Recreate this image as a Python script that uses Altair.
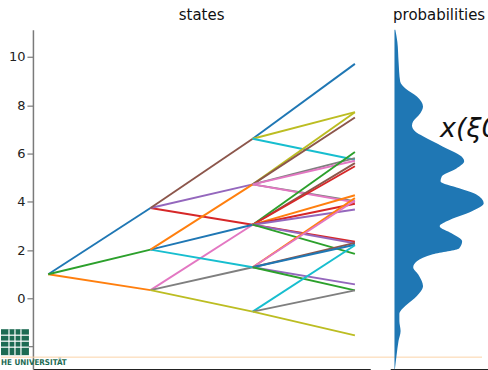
import altair as alt
import pandas as pd

# ---- data ----
palette_names = ["blue", "orange", "green", "red", "purple", "brown", "pink", "gray", "olive", "cyan"]
palette_hex = ["#1f77b4", "#ff7f0e", "#2ca02c", "#d62728", "#9467bd",
               "#8c564b", "#e377c2", "#7f7f7f", "#bcbd22", "#17becf"]

# tree edges: start stage, start state, end state, colour
edge_stage = [0, 0, 0,
              1, 1, 1, 1, 1, 1, 1, 1, 1,
              2, 2, 2,
              2, 2, 2, 2, 2, 2,
              2, 2, 2, 2, 2, 2, 2, 2, 2,
              2, 2, 2, 2, 2, 2,
              2, 2, 2]
edge_from = [1.0, 1.0, 1.0,
             3.74, 3.74, 3.74, 0.34, 0.34, 0.34, 2.02, 2.02, 2.02,
             6.61, 6.61, 6.61,
             4.72, 4.72, 4.72, 4.72, 4.72, 4.72,
             3.05, 3.05, 3.05, 3.05, 3.05, 3.05, 3.05, 3.05, 3.05,
             1.29, 1.29, 1.29, 1.29, 1.29, 1.29,
             -0.55, -0.55, -0.55]
edge_to = [3.74, 0.34, 2.02,
           3.05, 4.72, 6.61, 3.05, 1.29, -0.55, 1.29, 3.05, 4.72,
           9.71, 7.71, 5.74,
           7.71, 7.49, 5.81, 5.70, 4.02, 3.98,
           6.06, 5.60, 5.47, 4.27, 3.92, 3.68, 2.35, 2.28, 1.84,
           4.15, 4.05, 2.30, 2.22, 0.58, 0.33,
           2.20, 0.33, -1.53]
edge_color = ["blue", "orange", "green",
              "red", "purple", "brown", "pink", "gray", "olive", "cyan", "blue", "orange",
              "blue", "olive", "cyan",
              "olive", "brown", "gray", "pink", "gray", "pink",
              "green", "brown", "red", "orange", "red", "purple", "red", "purple", "green",
              "orange", "pink", "brown", "blue", "purple", "green",
              "cyan", "gray", "olive"]

# density of the final states (probabilities panel)
dens_state = [11.12, 10.63, 9.81, 8.98, 8.69, 8.36, 7.95, 7.66, 7.33, 7.16, 6.91, 6.71,
              6.29, 5.88, 5.68, 5.38, 5.05, 4.85, 4.56, 4.31, 3.94, 3.61, 3.19, 2.99,
              2.70, 2.37, 2.08, 1.83, 1.54, 1.29, 1.00, 0.51, 0.10, -0.31, -0.65,
              -0.94, -1.35, -1.76, -2.38, -2.93]
dens_value = [0.002, 0.007, 0.010, 0.014, 0.027, 0.055, 0.070, 0.063, 0.046, 0.043, 0.051, 0.070,
              0.118, 0.164, 0.171, 0.152, 0.116, 0.113, 0.159, 0.200, 0.219, 0.190, 0.128, 0.111,
              0.140, 0.166, 0.159, 0.094, 0.055, 0.046, 0.058, 0.070, 0.055, 0.027, 0.012,
              0.012, 0.015, 0.010, 0.005, 0.001]

y_ticks = [-2, 0, 2, 4, 6, 8, 10]
x_ticks = [0, 1, 2, 3]
dens_ticks = [0, 0.2]

Y_DOMAIN = [-2.93, 11.12]
FONT = "DejaVu Sans"
GREEN = "#1c6b53"

edges = pd.DataFrame({
    "t": edge_stage,
    "t2": [s + 1 for s in edge_stage],
    "v": edge_from,
    "v2": edge_to,
    "c": edge_color,
})
dens = pd.DataFrame({"s": dens_state, "d": dens_value})

yscale = alt.Scale(domain=Y_DOMAIN, nice=False, zero=False)

lines = alt.Chart(edges).mark_rule(strokeWidth=1.9).encode(
    x=alt.X("t:Q", scale=alt.Scale(domain=[-0.15, 3.15], nice=False, zero=False),
            axis=alt.Axis(values=x_ticks, title=None, grid=False, domainColor="#222",
                          domainWidth=1.5, tickColor="#222", tickSize=2, labels=False)),
    x2="t2:Q",
    y=alt.Y("v:Q", scale=yscale,
            axis=alt.Axis(values=y_ticks, title=None, grid=False, domainColor="#7a7a7a",
                          domainWidth=1.5, tickColor="#7a7a7a", tickWidth=1.2, tickSize=6,
                          labelPadding=2, labelFontSize=13, labelFont=FONT, labelColor="#222",
                          labelExpr="replace(datum.label, '-', '\u2212')")),
    y2="v2:Q",
    color=alt.Color("c:N", scale=alt.Scale(domain=palette_names, range=palette_hex), legend=None),
)

one = pd.DataFrame({"k": [0]})
deco_line = alt.Chart(one).mark_rule(color="#fbd3a8", strokeWidth=1).encode(
    x=alt.value(-32), x2=alt.value(450), y=alt.value(328))
logo_box = alt.Chart(one).mark_rect(color=GREEN).encode(
    x=alt.value(-32), x2=alt.value(-4), y=alt.value(300), y2=alt.value(326))
logo_h = alt.Chart(pd.DataFrame({"p": [306, 312, 318]})).mark_rule(color="white", strokeWidth=1.2).encode(
    x=alt.value(-32), x2=alt.value(-4), y=alt.Y("p:Q", scale=None))
logo_v = alt.Chart(pd.DataFrame({"p": [-24, -18, -12]})).mark_rule(color="white", strokeWidth=1.2).encode(
    y=alt.value(300), y2=alt.value(326), x=alt.X("p:Q", scale=None))
logo_text = alt.Chart(pd.DataFrame({"label": ["HE UNIVERSITÄT"]})).mark_text(
    align="left", baseline="alphabetic", font="DejaVu Sans Condensed", fontWeight="bold",
    fontSize=8, color=GREEN).encode(text="label:N", x=alt.value(-32), y=alt.value(336))

left = alt.layer(lines, logo_box, logo_h, logo_v, logo_text, deco_line).properties(
    width=338, height=340,
    title=alt.TitleParams("states", fontSize=15, font=FONT, fontWeight="normal",
                          color="#111", offset=-5.5, baseline="alphabetic"))

area = alt.Chart(dens).mark_area(orient="horizontal", interpolate="monotone", color="#1f77b4").encode(
    y=alt.Y("s:Q", scale=yscale, axis=None),
    x=alt.X("d:Q", scale=alt.Scale(domain=[-0.0105, 0.2295], nice=False, zero=False),
            axis=alt.Axis(values=dens_ticks, title=None, grid=False, domainColor="#222",
                          domainWidth=1.5, tickColor="#222", tickSize=2, labels=False)),
)
formula = alt.Chart(pd.DataFrame({"label": ["x(ξ0"]})).mark_text(
    align="left", baseline="alphabetic", font=FONT, fontStyle="italic", fontSize=27,
    color="#111", clip=True).encode(text="label:N", x=alt.value(50), y=alt.value(107))

right = alt.layer(area, formula).properties(
    width=98, height=340,
    title=alt.TitleParams("probabilities", fontSize=15, font=FONT, fontWeight="normal",
                          color="#111", offset=-5.5, baseline="alphabetic"))

chart = alt.hconcat(left, right, spacing=20, bounds="flush").properties(
    padding={"left": 0, "top": 7.5, "right": 0, "bottom": 0}
).configure_view(stroke=None)

chart.save("out.html", embed_options={"renderer": "svg", "actions": False})
